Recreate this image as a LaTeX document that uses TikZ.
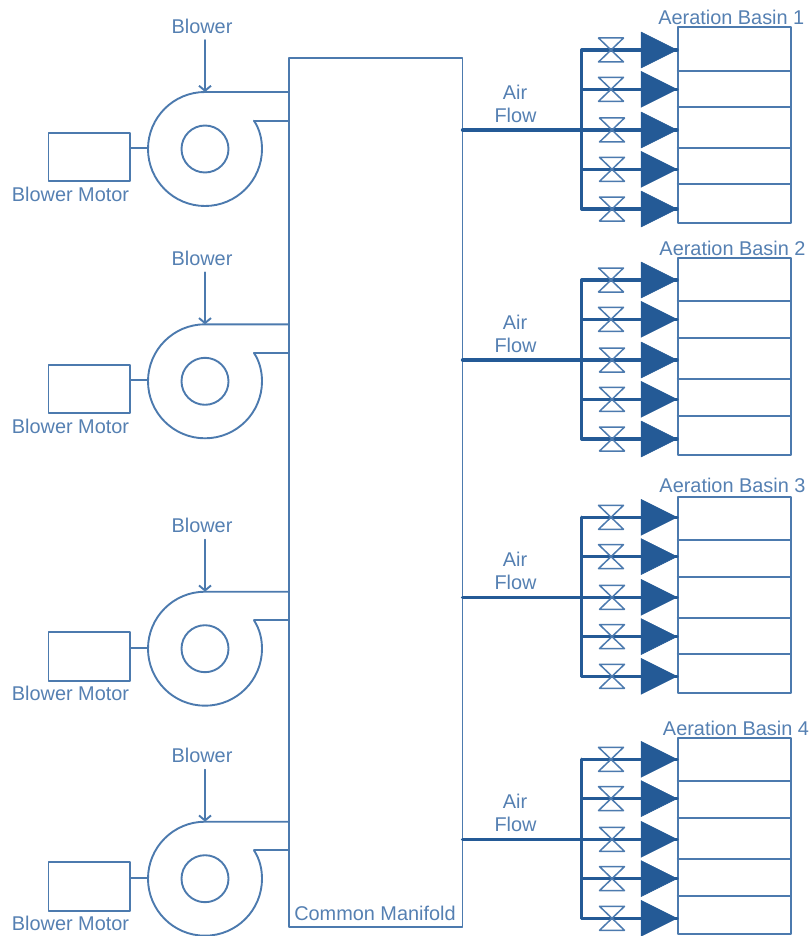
\documentclass[tikz,border=0pt]{standalone}
\usepackage{fontspec}
\setmainfont{Liberation Sans}
\usetikzlibrary{arrows.meta,calc}
\definecolor{thinblue}{HTML}{4C7AAE}
\definecolor{textblue}{HTML}{5580B2}
\definecolor{darkblue}{HTML}{245A96}
\tikzset{
  thinline/.style={draw=thinblue,line width=1.9pt,line join=round,line cap=round},
  pipe/.style={draw=darkblue,line width=3.2pt,line cap=round,line join=round},
  valveshape/.style={draw=thinblue,line width=1.5pt,line join=round},
  nozzle/.style={fill=darkblue,draw=darkblue,line width=.5pt,line join=round},
  label/.style={text=textblue,inner sep=0pt,font=\fontsize{19.9}{22}\selectfont},
  boxnode/.style={thinline,inner sep=0pt,outer sep=0pt,rectangle},
  hubnode/.style={thinline,circle,inner sep=0pt,outer sep=0pt,minimum size=47pt}
}
\begin{document}
\begin{tikzpicture}[x=1pt,y=-1pt]
\useasboundingbox (0,0) rectangle (809,936);
\node[boxnode,minimum width=173.5pt,minimum height=869pt] (manifold) at (375.75,492.5) {};
\node[label] (manifoldlabel) at (375,913) {Common Manifold};
% blowers
\foreach \k/\t in {1/92,2/324.3,3/591.7,4/821.7}{
  \coordinate (fan\k) at (205,\t+57);
  \coordinate (fantop\k) at (205,\t);
  \coordinate (fanwest\k) at (148,\t+56);
  \coordinate (duct\k) at (254,\t+28.7);
  \coordinate (arrowstart\k) at (205,\t-52);
  \node[boxnode,minimum width=81.5pt,minimum height=48.3pt] (motor\k) at (89.25,\t+64.8) {};
  \node[hubnode] (hub\k) at (205,\t+57) {};
  \node[label] (blowerlabel\k) at (202,\t-66) {Blower};
  \node[label] (motorlabel\k) at (70.5,\t+102) {Blower Motor};
  \draw[thinline] (motor\k.east |- fanwest\k) -- (fanwest\k);
  \draw[thinline] (duct\k) .. controls ($(duct\k)+(6,9)$) and ($(fan\k)+(57,-9)$) .. ($(fan\k)+(57,0)$)
     arc[start angle=0,end angle=270,radius=57] -- (fantop\k -| manifold.west);
  \draw[thinline] (duct\k) -- (duct\k -| manifold.west);
  \draw[thinline,-{Straight Barb[length=5pt,width=12pt]}] (arrowstart\k) -- (fantop\k);
}
% basins and air distribution
\foreach \g/\bt/\bb/\dA/\dB/\dC/\dD/\m/\lx/\ly in {
  1/27.3/223.3/70.7/107.3/148.3/184.3/130/731.3/17,
  2/258.3/455/301/338.3/379/415.7/360/732.5/248.3,
  3/496.7/693/540/576.7/617.7/654/597.3/732.5/485.7,
  4/738.3/934.3/781/817.7/859.3/895.7/839.3/736/728.3}{
  \node[boxnode,minimum width=113pt,minimum height={(\bb-\bt)*1pt}] (basin\g) at (734.2,{(\bt+\bb)/2}) {};
  \node[label] (basinlabel\g) at (\lx,\ly) {Aeration Basin \g};
  \foreach \dv in {\dA,\dB,\dC,\dD}{
    \draw[thinline] (basin\g.west |- 0,\dv) -- (basin\g.east |- 0,\dv);
  }
  \node[label] (air\g) at (515,\m-38) {Air};
  \node[label] (flow\g) at (515.5,\m-15) {Flow};
  \coordinate (outlet\g) at (manifold.east |- 0,\m);
  \coordinate (headtop\g) at (581.7,\m-80);
  \coordinate (headbot\g) at (581.7,\m+79);
  \draw[pipe] (outlet\g) -- (581.7,\m);
  \draw[pipe] (headtop\g) -- (headbot\g);
  \foreach \r/\o/\vx in {1/-80/611,2/-40.7/611,3/0/612,4/39.3/612,5/79/612}{
    \coordinate (jn\g\r) at (581.7,\m+\o);
    \coordinate (tip\g\r) at (677,\m+\o);
    \coordinate (valve\g\r) at (\vx,\m+\o);
    \draw[pipe] (jn\g\r) -- (tip\g\r);
    \draw[nozzle] (tip\g\r) -- ($(tip\g\r)+(-36,-18)$) -- ($(tip\g\r)+(-36,18)$) -- cycle;
    \draw[valveshape] ($(valve\g\r)+(-12.5,-12)$) -- ($(valve\g\r)+(12.5,-12)$)
      -- ($(valve\g\r)+(-12.5,12)$) -- ($(valve\g\r)+(12.5,12)$) -- cycle;
  }
}
\end{tikzpicture}
\end{document}
